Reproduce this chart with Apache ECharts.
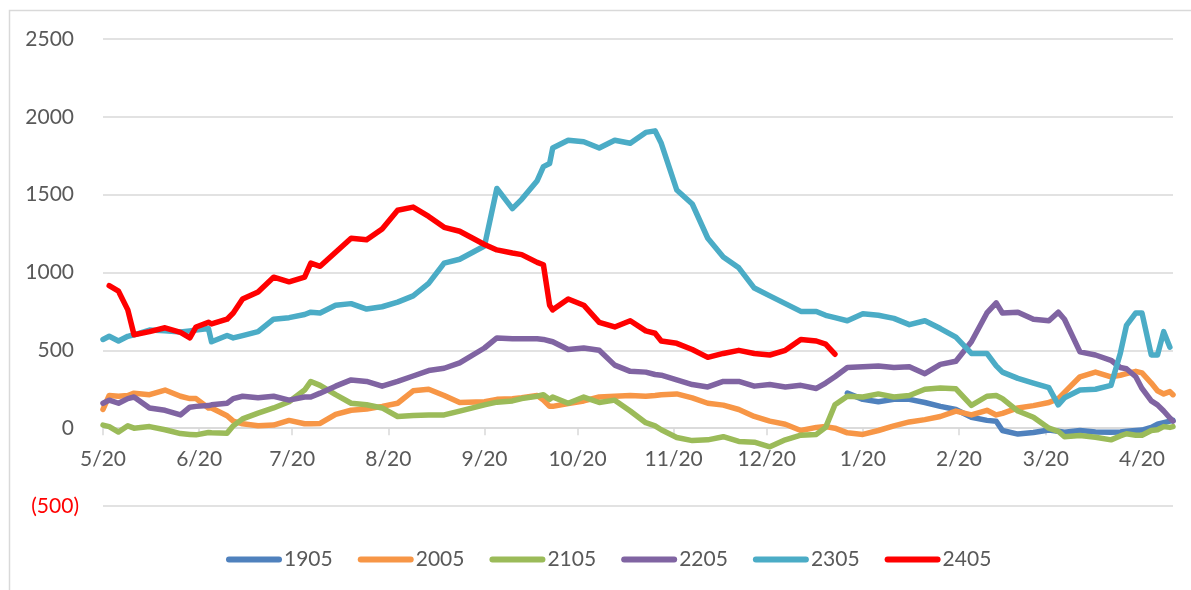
<!DOCTYPE html>
<html>
<head>
<meta charset="utf-8">
<script src="https://cdn.jsdelivr.net/npm/echarts@6/dist/echarts.min.js"></script>
<style>
  html, body { margin: 0; padding: 0; background: #fff; }
  #chart { width: 1191px; height: 590px; }
</style>
</head>
<body>
<div id="chart"></div>
<script>
// sample dates (one seasonal year, 5/20 .. 4/30)
const dates = [
  "2022-05-20", "2022-05-22", "2022-05-25", "2022-05-28", "2022-05-30", "2022-06-04", "2022-06-09", "2022-06-14",
  "2022-06-17", "2022-06-19", "2022-06-23", "2022-06-24", "2022-06-29", "2022-07-01", "2022-07-04", "2022-07-09",
  "2022-07-14", "2022-07-19", "2022-07-24", "2022-07-26", "2022-07-29", "2022-08-03", "2022-08-08", "2022-08-13",
  "2022-08-18", "2022-08-23", "2022-08-28", "2022-09-02", "2022-09-07", "2022-09-12", "2022-09-20", "2022-09-24",
  "2022-09-29", "2022-10-02", "2022-10-07", "2022-10-09", "2022-10-11", "2022-10-12", "2022-10-17", "2022-10-22",
  "2022-10-27", "2022-11-01", "2022-11-06", "2022-11-11", "2022-11-14", "2022-11-16", "2022-11-21", "2022-11-26",
  "2022-12-01", "2022-12-06", "2022-12-11", "2022-12-16", "2022-12-21", "2022-12-26", "2022-12-31", "2023-01-05",
  "2023-01-08", "2023-01-11", "2023-01-15", "2023-01-20", "2023-01-25", "2023-01-30", "2023-02-04", "2023-02-09",
  "2023-02-14", "2023-02-19", "2023-02-24", "2023-03-01", "2023-03-04", "2023-03-06", "2023-03-11", "2023-03-16",
  "2023-03-21", "2023-03-24", "2023-03-26", "2023-03-31", "2023-04-05", "2023-04-10", "2023-04-13", "2023-04-15",
  "2023-04-18", "2023-04-20", "2023-04-23", "2023-04-25", "2023-04-27", "2023-04-29", "2023-04-30"
];

// x axis tick labels (the 20th of each month)
const tickDates = [
  "2022-05-20", "2022-06-20", "2022-07-20", "2022-08-20", "2022-09-20", "2022-10-20",
  "2022-11-20", "2022-12-20", "2023-01-20", "2023-02-20", "2023-03-20", "2023-04-20"
];

const s1905 = [
  null, null, null, null, null, null, null, null, null, null, null, null, null, null, null, null,
  null, null, null, null, null, null, null, null, null, null, null, null, null, null, null, null,
  null, null, null, null, null, null, null, null, null, null, null, null, null, null, null, null,
  null, null, null, null, null, null, null, null, null, null,
  225, 185, 170, 185, 185, 165, 140, 120, 70, 50, 45, -15, -38, -28, -12, -20,
  -26, -15, -25, -26, -25, -20, -15, -12, 5, 25, 35, 45, 50
];

const s2005 = [
  120, 210, 205, 210, 225, 215, 245, 205, 190, 190, 130, 130, 80, 45, 28, 15,
  20, 50, 28, 28, 30, 88, 115, 123, 140, 160, 240, 250, 210, 165, 170, 185,
  189, 195, 210, 180, 140, 140, 158, 175, 200, 205, 210, 205, 210, 215, 220, 195,
  160, 148, 120, 75, 45, 25, -15, 5, 10, 0,
  -30, -40, -15, 15, 40, 55, 75, 110, 85, 115, 85, 95, 130, 145, 165, 190,
  230, 330, 360, 330, 340, 350, 365, 355, 290, 240, 220, 235, 215
];

const s2105 = [
  20, 10, -25, 15, 0, 10, -10, -35, -40, -43, -28, -30, -32, 15, 60, 97,
  130, 170, 245, 300, 275, 215, 160, 150, 130, 75, 82, 85, 85, 110, 150, 167,
  175, 190, 205, 215, 185, 200, 160, 200, 165, 180, 110, 35, 15, -10, -60, -80,
  -75, -55, -85, -90, -120, -75, -45, -40, 5, 150,
  205, 200, 220, 200, 210, 250, 258, 253, 146, 205, 210, 190, 110, 70, 0, -20,
  -55, -47, -58, -75, -50, -36, -45, -45, -15, -10, 10, 5, 10
];

const s2205 = [
  160, 180, 160, 190, 200, 130, 115, 85, 135, 140, 145, 150, 160, 190, 205, 195,
  205, 180, 200, 200, 225, 270, 310, 300, 270, 300, 335, 370, 385, 420, 515, 580,
  575, 575, 575, 570, 560, 555, 505, 515, 500, 405, 365, 360, 345, 340, 310, 280,
  265, 300, 300, 270, 280, 265, 275, 255, 290, 330,
  390, 395, 400, 390, 395, 350, 410, 430, 555, 740, 805, 740, 745, 700, 690, 745,
  700, 490, 470, 436, 390, 382, 330, 255, 175, 150, 110, 65, 45
];

const s2305 = [
  570, 590, 560, 590, 600, 630, 625, 618, 625, 630, 640, 555, 595, 580, 595, 620,
  700, 710, 730, 745, 740, 790, 800, 765, 780, 810, 850, 930, 1060, 1085, 1170, 1540,
  1410, 1470, 1590, 1680, 1700, 1800, 1850, 1840, 1800, 1850, 1830, 1900, 1910, 1830, 1530, 1440,
  1220, 1100, 1030, 900, 850, 800, 750, 750, 725, 710,
  690, 735, 725, 705, 665, 690, 640, 585, 480, 480, 400, 360, 320, 290, 260, 150,
  195, 245, 250, 275, 480, 660, 740, 740, 470, 470, 620, 520, null
];

const s2405 = [
  null, 915, 880, 760, 600, 620, 645, 615, 580, 650, 680, 670, 700, 740, 830, 875,
  970, 940, 970, 1060, 1040, 1130, 1220, 1210, 1280, 1400, 1420, 1360, 1290, 1265, 1180, 1145,
  1125, 1115, 1065, 1050, 790, 760, 830, 790, 680, 650, 690, 625, 610, 560, 545, 505,
  455, 480, 500, 480, 470, 500, 570, 560, 540, 475,
  null, null, null, null, null, null, null, null, null, null, null, null, null, null, null, null,
  null, null, null, null, null, null, null, null, null, null, null, null, null
];

const seriesNames = ["1905", "2005", "2105", "2205", "2305", "2405"];
const seriesData = [s1905, s2005, s2105, s2205, s2305, s2405];
const colors = ["#4F81BD", "#F79646", "#9BBB59", "#8064A2", "#4BACC6", "#FF0000"];

const FONT = "Lato";
const toTime = (s) => echarts.number.parseDate(s).getTime();
const tickTimes = tickDates.map(toTime);

const chart = echarts.init(document.getElementById("chart"), null, { renderer: "canvas" });

// grid 39..506 px high, y from -500 to 2500: zero line sits 500/3000 of the height above the bottom
const gridTop = 39, gridBottom = 84;
const zeroOffset = (590 - gridTop - gridBottom) * 500 / 3000;

const option = {
  animation: false,
  backgroundColor: "#fff",
  color: colors,
  graphic: [
    {
      type: "rect",
      shape: { x: 9.5, y: 10.5, width: 1190, height: 590 },
      style: { fill: "none", stroke: "#D9D9D9", lineWidth: 1.5 },
      silent: true
    }
  ],
  grid: { left: 103, right: 18, top: gridTop, bottom: gridBottom },
  legend: {
    left: 221,
    top: 544,
    itemWidth: 56,
    itemHeight: 6,
    itemGap: 25,
    icon: "path://M3,0H53A3,3 0 0 1 53,6H3A3,3 0 0 1 3,0Z",
    textStyle: { fontFamily: FONT, fontSize: 21, color: "#595959", padding: [0, 0, 0, -3] },
    data: seriesNames
  },
  xAxis: {
    type: "value",
    min: toTime("2022-05-20"),
    max: toTime("2023-04-30"),
    offset: -zeroOffset,
    axisLine: { onZero: false, lineStyle: { color: "#D9D9D9", width: 1.5 } },
    axisTick: {
      show: true,
      length: 7,
      customValues: tickTimes,
      lineStyle: { color: "#D9D9D9", width: 1.5 }
    },
    splitLine: { show: false },
    axisLabel: {
      customValues: tickTimes,
      margin: 21,
      fontFamily: FONT,
      fontSize: 21,
      color: "#595959",
      showMinLabel: true,
      formatter: function (value) {
        const d = new Date(value);
        return (d.getMonth() + 1) + "/" + d.getDate();
      }
    }
  },
  yAxis: {
    type: "value",
    min: -500,
    max: 2500,
    interval: 500,
    axisLine: { show: false },
    axisTick: { show: false },
    splitLine: { lineStyle: { color: "#D9D9D9", width: 1.5 } },
    axisLabel: {
      margin: 24,
      formatter: function (v) {
        return v < 0 ? "{n|(" + Math.abs(v) + ")}" : "{p|" + v + "}";
      },
      rich: {
        p: { fontFamily: FONT, fontSize: 21, color: "#595959", padding: [0, 5, 0, 0] },
        n: { fontFamily: FONT, fontSize: 21, color: "#FF0000" }
      }
    }
  },
  series: seriesNames.map(function (name, i) {
    return {
      name: name,
      type: "line",
      symbol: "none",
      showSymbol: false,
      connectNulls: false,
      lineStyle: { width: 5.5, cap: "round", join: "round" },
      data: dates.map(function (d, k) { return [toTime(d), seriesData[i][k]]; })
    };
  })
};

chart.setOption(option);
</script>
</body>
</html>
